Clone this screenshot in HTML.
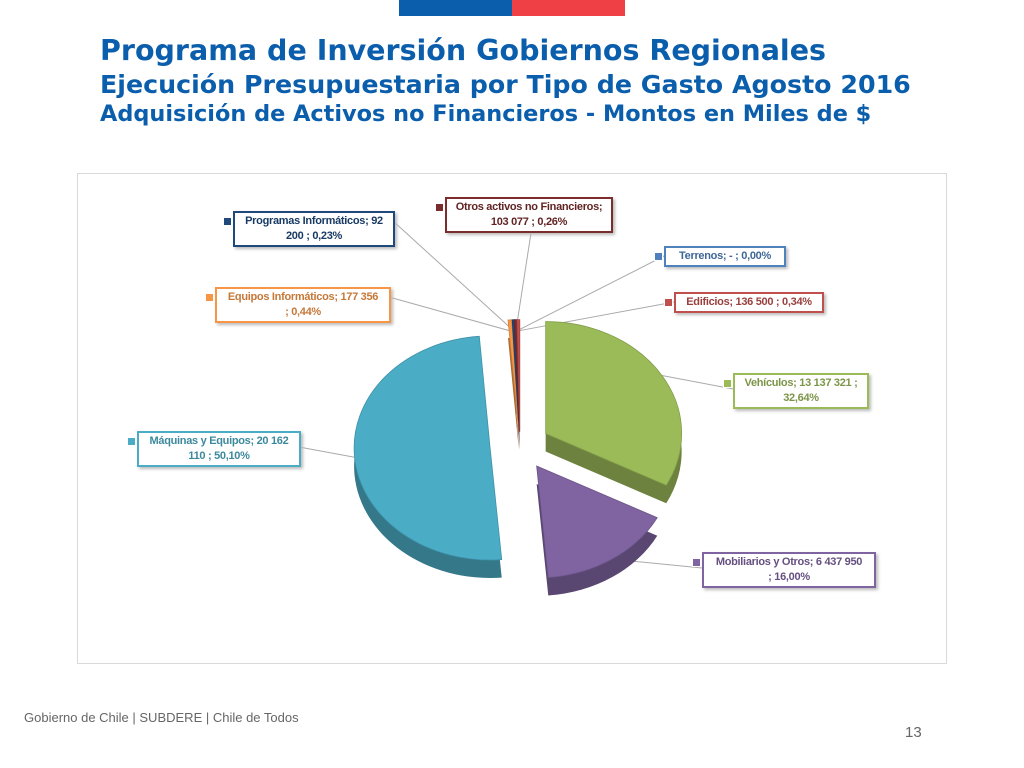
<!DOCTYPE html>
<html><head><meta charset="utf-8"><style>
body{margin:0;width:1024px;height:768px;background:#fff;position:relative;font-family:"Liberation Sans",sans-serif;overflow:hidden}
.t{position:absolute;left:100px;color:#0b5eac;font-weight:bold;white-space:nowrap;font-family:"DejaVu Sans",sans-serif}
.lbl{position:absolute;background:#fff;border:2px solid;box-shadow:2px 2px 3px #bbb;font-size:11px;font-weight:bold;text-align:center;line-height:15px;padding:1px 2px;letter-spacing:-0.3px}
.sq{position:absolute;width:7px;height:7px;left:-12px;top:4px;border:1px solid #fff}
</style></head><body>
<div style="position:absolute;left:399px;top:0;width:113px;height:16px;background:#0b5eac"></div>
<div style="position:absolute;left:512px;top:0;width:113px;height:16px;background:#ef4145"></div>
<div class="t" style="top:34px;font-size:28.5px">Programa de Inversión Gobiernos Regionales</div>
<div class="t" style="top:70px;font-size:25.3px">Ejecución Presupuestaria por Tipo de Gasto Agosto 2016</div>
<div class="t" style="top:101px;font-size:22.4px">Adquisición de Activos no Financieros - Montos en Miles de $</div>
<div style="position:absolute;left:77px;top:173px;width:868px;height:489px;border:1px solid #d9d9d9"></div>
<svg id="pie" style="position:absolute;left:0;top:0" width="1024" height="768"></svg>
<div id="labels"></div>
<div style="position:absolute;left:24px;top:710px;font-size:13px;color:#666">Gobierno de Chile | SUBDERE | Chile de Todos</div>
<div style="position:absolute;left:905px;top:724px;font-size:15px;color:#666">13</div>
<script>
const categories=["Vehículos","Mobiliarios y Otros","Máquinas y Equipos","Equipos Informáticos","Programas Informáticos","Otros activos no Financieros","Terrenos","Edificios"];
const values=[13137321,6437950,20162110,177356,92200,103077,0,136500];
const printed=["Vehículos;  13 137 321 ;<br>32,64%","Mobiliarios y Otros;  6 437 950<br>; 16,00%","Máquinas y Equipos;  20 162<br>110 ; 50,10%","Equipos Informáticos;  177 356<br>; 0,44%","Programas Informáticos;  92<br>200 ; 0,23%","Otros activos no Financieros;<br>103 077 ; 0,26%","Terrenos;  -   ; 0,00%","Edificios;  136 500 ; 0,34%"];
const colors=["#9bbb59","#8064a2","#4bacc6","#f79646","#1f497d","#7b2c2c","#4f81bd","#c0504d"];
const boxes=[[733,373,128],[702,552,166],[137,431,156],[215,287,168],[233,211,154],[445,197,160],[664,246,114],[674,292,142]];
const cx=520,cy=446,rx=136,ry=112,depth=18,ex=30;
const svg=document.getElementById('pie');
const NS='http://www.w3.org/2000/svg';
const total=values.reduce((a,b)=>a+b,0);
function pt(a,ox,oy,f){return [cx+ox+rx*f*Math.sin(a),cy+oy-ry*f*Math.cos(a)];}
function shade(c,k){const n=parseInt(c.slice(1),16);const r=(n>>16)*k|0,g=((n>>8)&255)*k|0,b=(n&255)*k|0;return `rgb(${r},${g},${b})`;}
let acc=0;const slices=[];
values.forEach((v,i)=>{const a0=acc/total*2*Math.PI;acc+=v;const a1=acc/total*2*Math.PI;const m=(a0+a1)/2;const e=(a1-a0)<0.2?ex*0.6:ex;slices.push({a0,a1,m,ox:Math.sin(m)*e,oy:-Math.cos(m)*e*0.8});});
function arcPath(s,dy){const p0=pt(s.a0,s.ox,s.oy+dy,1),p1=pt(s.a1,s.ox,s.oy+dy,1);const large=(s.a1-s.a0)>Math.PI?1:0;return `M${cx+s.ox},${cy+s.oy+dy} L${p0[0]},${p0[1]} A${rx},${ry} 0 ${large} 1 ${p1[0]},${p1[1]} Z`;}
slices.forEach((s,i)=>{const b=boxes[i];const small=s.a1-s.a0<0.2;const p=pt(s.m,s.ox,s.oy,small?0.9:1);let bx,by;
if(i===5){bx=b[0]+b[2]/2+6;by=b[1]+36;}else{bx=b[0]<cx?b[0]+b[2]+6:b[0];by=b[1]+(b[1]<300?10:16);}
const l=document.createElementNS(NS,'line');l.setAttribute('x1',p[0]);l.setAttribute('y1',p[1]);l.setAttribute('x2',bx);l.setAttribute('y2',by);l.setAttribute('stroke','#aaa');l.setAttribute('stroke-width','1');


svg.appendChild(l);});
slices.forEach((s,i)=>{if(values[i]<=0)return;const d=document.createElementNS(NS,'path');d.setAttribute('d',arcPath(s,depth));d.setAttribute('fill',shade(colors[i],0.7));


svg.appendChild(d);});
slices.forEach((s,i)=>{if(values[i]<=0)return;const d=document.createElementNS(NS,'path');d.setAttribute('d',arcPath(s,0));d.setAttribute('fill',colors[i]);d.setAttribute('stroke',shade(colors[i],0.85));d.setAttribute('stroke-width','0.8');


svg.appendChild(d);});
const L=document.getElementById('labels');
categories.forEach((c,i)=>{const b=boxes[i];const d=document.createElement('div');d.className='lbl';d.style.left=b[0]+'px';d.style.top=b[1]+'px';d.style.width=b[2]+'px';d.style.borderColor=colors[i];d.style.color=shade(colors[i],0.8);d.innerHTML=printed[i]+`<span class="sq" style="background:${colors[i]}"></span>`;


L.appendChild(d);});
</script>
</body></html>
